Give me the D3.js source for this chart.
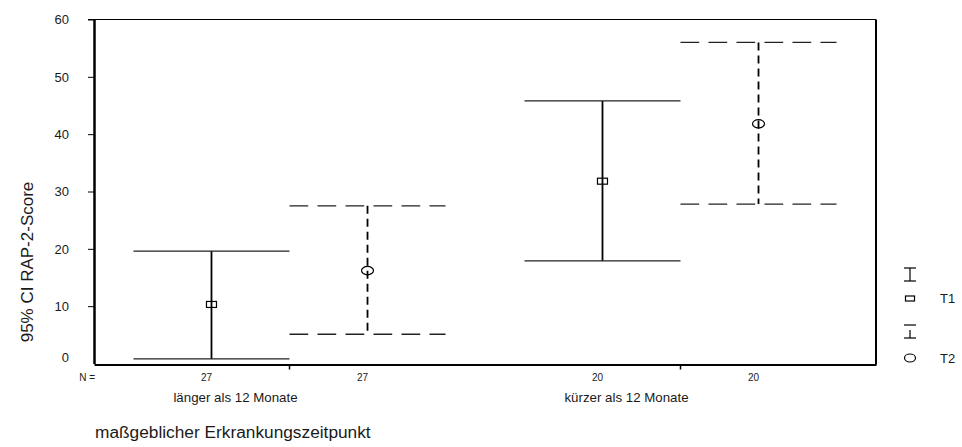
<!DOCTYPE html>
<html>
<head>
<meta charset="utf-8">
<script src="https://cdn.jsdelivr.net/npm/d3@7"></script>
<style>
  html, body { margin: 0; padding: 0; background: #fff; }
  svg { display: block; font-family: "Liberation Sans", Arial, sans-serif; }
</style>
</head>
<body>
<svg id="chart" width="962" height="447"></svg>
<script>
// Error bar chart: 95% CI of RAP-2-Score by time of onset, T1 vs T2
const categories = ["länger als 12 Monate", "kürzer als 12 Monate"];
const series = ["T1", "T2"];
const meanT1 = [10.3, 31.8];
const meanT2 = [16.2, 41.8];
const lowerT1 = [0.8, 17.9];
const lowerT2 = [5.1, 27.8];
const upperT1 = [19.6, 45.8];
const upperT2 = [27.5, 56.0];
const nT1 = [27, 20];
const nT2 = [27, 20];
const yTicks = [0, 10, 20, 30, 40, 50, 60];

const rows = [];
categories.forEach((c, i) => {
  rows.push({ cat: c, s: "T1", mean: meanT1[i], lo: lowerT1[i], hi: upperT1[i], n: nT1[i] });
  rows.push({ cat: c, s: "T2", mean: meanT2[i], lo: lowerT2[i], hi: upperT2[i], n: nT2[i] });
});

const ink = "#1a1a1a";
const svg = d3.select("#chart");
const plotL = 94, plotR = 876, plotT = 19.5, plotB = 363.5;

const y = d3.scaleLinear().domain([0, 60]).range([plotB, plotT]);
const x = d3.scaleBand().domain(categories).range([plotL, plotR]).padding(0);
const xs = d3.scalePoint().domain(series).range([0, x.bandwidth()]).padding(0.753);
const capW = xs.step();
const cx = d => x(d.cat) + xs(d.s);

// frame: thin top, heavy left / bottom / right
svg.append("line").attr("x1", plotL - 6).attr("x2", plotR).attr("y1", plotT).attr("y2", plotT)
  .attr("stroke", "#000").attr("stroke-width", 1);
svg.append("line").attr("x1", plotR).attr("x2", plotR).attr("y1", plotT).attr("y2", plotB + 1)
  .attr("stroke", "#000").attr("stroke-width", 2);

// y axis
const yAxis = svg.append("g").attr("transform", `translate(${plotL},0)`)
  .call(d3.axisLeft(y).tickValues(yTicks).tickSize(6).tickSizeOuter(0).tickFormat(d3.format("d")));
yAxis.select(".domain").attr("stroke", "#000").attr("stroke-width", 2.5);
yAxis.selectAll(".tick line").attr("stroke", "#000");
yAxis.selectAll(".tick text").attr("font-size", 13).attr("fill", ink).attr("x", -25)
  .attr("dy", d => d === 0 ? "-0.15em" : "0.32em");
yAxis.selectAll(".tick").filter(d => d === 0).select("line").remove();

// x axis with ticks at category centres
const xAxis = svg.append("g").attr("transform", `translate(0,${plotB + 1})`)
  .call(d3.axisBottom(x).tickSize(5).tickSizeOuter(0).tickFormat(""));
xAxis.select(".domain").attr("stroke", "#000").attr("stroke-width", 2);
xAxis.selectAll(".tick line").attr("stroke", "#000").attr("stroke-width", 1.5);

// category labels
svg.selectAll(".catlabel").data(categories).enter().append("text")
  .attr("x", d => x(d) + x.bandwidth() / 2 - 54).attr("y", 401.5)
  .attr("text-anchor", "middle").attr("font-size", 13.3).attr("fill", ink).text(d => d);

// N labels
svg.append("text").attr("x", 95).attr("y", 380.5).attr("text-anchor", "end")
  .attr("font-size", 10).attr("fill", ink).text("N =");
svg.selectAll(".nlabel").data(rows).enter().append("text")
  .attr("x", d => cx(d) - 5).attr("y", 380.5).attr("text-anchor", "middle")
  .attr("font-size", 10).attr("fill", ink).text(d => d.n);

// error bars
const bars = svg.selectAll(".bar").data(rows).enter().append("g");
const dashV = d => d.s === "T2" ? "8,5" : null;
const dashH = d => d.s === "T2" ? "18.7,9.3" : null;
bars.append("line").attr("x1", cx).attr("x2", cx)
  .attr("y1", d => y(d.hi)).attr("y2", d => y(d.lo))
  .attr("stroke", "#000").attr("stroke-width", 1.8).attr("stroke-dasharray", dashV);
bars.append("line").attr("x1", d => cx(d) - capW / 2).attr("x2", d => cx(d) + capW / 2)
  .attr("y1", d => y(d.hi)).attr("y2", d => y(d.hi))
  .attr("stroke", "#222").attr("stroke-width", 1.3).attr("stroke-dasharray", dashH);
bars.append("line").attr("x1", d => cx(d) - capW / 2).attr("x2", d => cx(d) + capW / 2)
  .attr("y1", d => y(d.lo)).attr("y2", d => y(d.lo))
  .attr("stroke", "#222").attr("stroke-width", 1.3).attr("stroke-dasharray", dashH);

// mean markers: square for T1, ellipse for T2
bars.filter(d => d.s === "T1").append("rect")
  .attr("x", d => cx(d) - 5).attr("y", d => y(d.mean) - 3).attr("width", 10).attr("height", 6)
  .attr("fill", "none").attr("stroke", "#000").attr("stroke-width", 1.2);
bars.filter(d => d.s === "T2").append("ellipse")
  .attr("cx", cx).attr("cy", d => y(d.mean)).attr("rx", 6).attr("ry", 4.2)
  .attr("fill", "none").attr("stroke", "#000").attr("stroke-width", 1.2);

// legend
const lg = svg.append("g").attr("transform", "translate(910,0)");
// T1 error bar symbol
lg.append("line").attr("x1", -6).attr("x2", 6).attr("y1", 268).attr("y2", 268).attr("stroke", "#000").attr("stroke-width", 1.2);
lg.append("line").attr("x1", 0).attr("x2", 0).attr("y1", 268).attr("y2", 281).attr("stroke", "#000").attr("stroke-width", 1.2);
lg.append("line").attr("x1", -6).attr("x2", 6).attr("y1", 281).attr("y2", 281).attr("stroke", "#000").attr("stroke-width", 1.2);
lg.append("rect").attr("x", -4.5).attr("y", 296).attr("width", 9).attr("height", 5)
  .attr("fill", "none").attr("stroke", "#000").attr("stroke-width", 1.2);
// T2 error bar symbol (dashed)
lg.append("line").attr("x1", -6).attr("x2", 6).attr("y1", 325).attr("y2", 325).attr("stroke", "#000").attr("stroke-width", 1.2);
lg.append("line").attr("x1", 0).attr("x2", 0).attr("y1", 330).attr("y2", 338).attr("stroke", "#000").attr("stroke-width", 1.2);
lg.append("line").attr("x1", -6).attr("x2", 6).attr("y1", 338).attr("y2", 338).attr("stroke", "#000").attr("stroke-width", 1.2);
lg.append("ellipse").attr("cx", 0).attr("cy", 358).attr("rx", 5.5).attr("ry", 4)
  .attr("fill", "none").attr("stroke", "#000").attr("stroke-width", 1.2);
lg.append("text").attr("x", 30).attr("y", 302.5).attr("font-size", 13).attr("fill", ink).text(series[0]);
lg.append("text").attr("x", 30).attr("y", 362.5).attr("font-size", 13).attr("fill", ink).text(series[1]);

// axis titles
svg.append("text").attr("transform", "translate(33,262) rotate(-90)")
  .attr("text-anchor", "middle").attr("font-size", 17).attr("fill", ink).text("95% CI RAP-2-Score");
svg.append("text").attr("x", 95).attr("y", 438)
  .attr("font-size", 17.3).attr("fill", ink).text("maßgeblicher Erkrankungszeitpunkt");
</script>
</body>
</html>
